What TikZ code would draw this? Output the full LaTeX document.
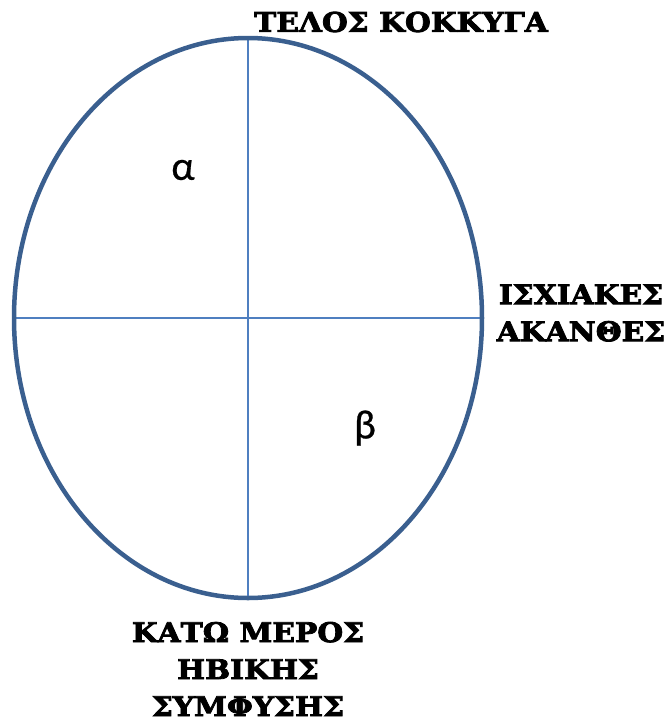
\documentclass[tikz,border=0pt]{standalone}
\usepackage{fontspec}
\setmainfont{DejaVu Serif}[BoldFeatures={FakeStretch=1.1,FakeBold=3}]
\newfontfamily\greeksans{Carlito}[FakeBold=0.6]
\definecolor{rimblue}{HTML}{3A5F8F}
\definecolor{axisblue}{HTML}{4F7FC0}
\begin{document}
\begin{tikzpicture}[x=1pt,y=-1pt,
  rim/.style={draw=rimblue,line width=4.5pt},
  axisline/.style={draw=axisblue,line width=1.5pt},
  lbl/.style={font=\bfseries\fontsize{27}{37}\selectfont,align=center,inner sep=0pt},
  letter/.style={font=\greeksans\fontsize{41}{44}\selectfont,inner sep=0pt}]
\useasboundingbox (0,0) rectangle (666,721);
\coordinate (c) at (248,318);
\coordinate (top) at (248,38);
\coordinate (bot) at (248,598);
\coordinate (lft) at (14,318);
\coordinate (rgt) at (482,318);
\draw[axisline] (top) -- (bot);
\draw[axisline] (lft) -- (rgt);
\draw[rim] (c) ellipse [x radius=234, y radius=280];
\node[lbl] (tl) at (401,22) {ΤΕΛΟΣ ΚΟΚΚΥΓΑ};
\node[lbl] (is) at (581,313) {ΙΣΧΙΑΚΕΣ\\ΑΚΑΝΘΕΣ};
\node[lbl] (km) at (248,669) {ΚΑΤΩ ΜΕΡΟΣ\\ΗΒΙΚΗΣ\\ΣΥΜΦΥΣΗΣ};
\node[letter] (a) at (183,170) {α};
\node[letter] (b) at (365,428) {β};
\end{tikzpicture}
\end{document}
